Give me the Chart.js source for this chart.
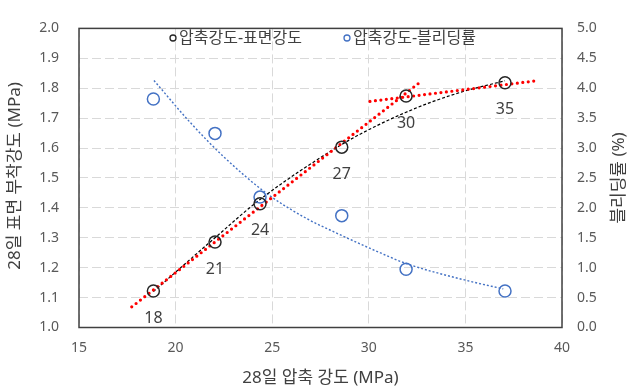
<!DOCTYPE html>
<html>
<head>
<meta charset="utf-8">
<script src="https://cdn.jsdelivr.net/npm/chart.js@4.4.2/dist/chart.umd.min.js"></script>
<style>
    body { margin: 0; background: #fff; }
    #wrap { width: 629px; height: 389px; }
</style>
</head>
<body>
<div id="wrap"><canvas id="chart"></canvas></div>
<script>
// 28일 압축강도 (MPa) - 배합별
const compStrength = [18.85, 22.04, 24.37, 28.6, 31.93, 37.05];
const surfaceStrength = [1.122, 1.286, 1.414, 1.603, 1.774, 1.818];
const bleedingRate = [3.82, 3.245, 2.18, 1.87, 0.974, 0.61];
const mixLabels = ['18', '21', '24', '27', '30', '35'];

// 추세선
const surfaceTrendX = [18.85, 22.04, 24.37, 28.6, 30.58, 31.87, 33.17, 34.89, 37.05];
const surfaceTrendY = [1.120, 1.300, 1.428, 1.612, 1.680, 1.718, 1.752, 1.789, 1.825];
const bleedTrendX = [18.88, 20.75, 22.47, 24.72, 26.79, 27.99, 30.58, 31.93, 34.89, 36.96];
const bleedTrendY = [4.13, 3.43, 2.86, 2.24, 1.82, 1.63, 1.25, 1.07, 0.80, 0.645];
const redLine1X = [17.73, 32.69];
const redLine1Y = [1.069, 1.822];
const redLine2X = [30.06, 38.69];
const redLine2Y = [1.756, 1.825];

const xTitle = '28일 압축 강도 (MPa)';
const yTitle = '28일 표면 부착강도 (MPa)';
const y2Title = '블리딩률 (%)';

const toPts = (xs, ys) => xs.map((x, i) => ({ x, y: ys[i] }));

const FONT = '"Noto Sans", "Noto Sans CJK KR", sans-serif';
Chart.defaults.font.family = FONT;

// 범례, 축 제목, 테두리, 데이터 레이블
const decorPlugin = {
    id: 'decor',
    beforeDatasetsDraw(chart) {
        const { ctx, chartArea: a } = chart;
        ctx.save();
        ctx.strokeStyle = '#404040';
        ctx.lineWidth = 1.5;
        ctx.strokeRect(a.left, a.top, a.right - a.left, a.bottom - a.top);
        ctx.restore();
    },
    afterDatasetsDraw(chart) {
        const { ctx, chartArea: a } = chart;
        ctx.save();

        // 데이터 레이블 (배합 강도)
        const meta = chart.getDatasetMeta(0);
        ctx.fillStyle = '#404040';
        ctx.font = '16px ' + FONT;
        ctx.textAlign = 'center';
        ctx.textBaseline = 'middle';
        meta.data.forEach((pt, i) => {
            ctx.fillText(mixLabels[i], pt.x, pt.y + 27);
        });

        // 범례
        ctx.font = '16px ' + FONT;
        ctx.textAlign = 'left';
        const legendItems = [
            { ds: chart.data.datasets[0], x: 173 },
            { ds: chart.data.datasets[1], x: 347 }
        ];
        legendItems.forEach(item => {
            ctx.beginPath();
            ctx.arc(item.x, 38, 3, 0, Math.PI * 2);
            ctx.strokeStyle = item.ds.borderColor;
            ctx.lineWidth = 1.3;
            ctx.stroke();
            ctx.fillStyle = '#404040';
            ctx.fillText(item.ds.label, item.x + 6, 38);
        });

        // 축 제목
        ctx.fillStyle = '#404040';
        ctx.font = '17px ' + FONT;
        ctx.textAlign = 'center';
        ctx.fillText(xTitle, (a.left + a.right) / 2, 378);

        const midY = (a.top + a.bottom) / 2;
        ctx.save();
        ctx.translate(15, midY - 2);
        ctx.rotate(-Math.PI / 2);
        ctx.fillText(yTitle, 0, 0);
        ctx.restore();

        ctx.save();
        ctx.translate(619, midY);
        ctx.rotate(-Math.PI / 2);
        ctx.fillText(y2Title, 0, 0);
        ctx.restore();

        ctx.restore();
    }
};

new Chart(document.getElementById('chart'), {
    type: 'scatter',
    data: {
        datasets: [
            {
                label: '압축강도-표면강도',
                data: toPts(compStrength, surfaceStrength),
                yAxisID: 'y',
                borderColor: '#262626',
                backgroundColor: 'rgba(0,0,0,0)',
                borderWidth: 1.5,
                pointRadius: 6,
                order: 0
            },
            {
                label: '압축강도-블리딩률',
                data: toPts(compStrength, bleedingRate),
                yAxisID: 'y2',
                borderColor: '#4472c4',
                backgroundColor: 'rgba(0,0,0,0)',
                borderWidth: 1.5,
                pointRadius: 6,
                order: 0
            },
            {
                label: 'surfaceTrend',
                data: toPts(surfaceTrendX, surfaceTrendY),
                yAxisID: 'y',
                showLine: true,
                pointRadius: 0,
                borderColor: '#000000',
                borderWidth: 1.2,
                borderDash: [3, 2],
                cubicInterpolationMode: 'monotone',
                order: 3
            },
            {
                label: 'bleedTrend',
                data: toPts(bleedTrendX, bleedTrendY),
                yAxisID: 'y2',
                showLine: true,
                pointRadius: 0,
                borderColor: '#4472c4',
                borderWidth: 1.4,
                borderDash: [2, 2],
                cubicInterpolationMode: 'monotone',
                order: 3
            },
            {
                label: 'red1',
                data: toPts(redLine1X, redLine1Y),
                yAxisID: 'y',
                showLine: true,
                pointRadius: 0,
                borderColor: '#ff0000',
                borderWidth: 3.2,
                borderDash: [0, 5.5],
                borderCapStyle: 'round',
                order: 1
            },
            {
                label: 'red2',
                data: toPts(redLine2X, redLine2Y),
                yAxisID: 'y',
                showLine: true,
                pointRadius: 0,
                borderColor: '#ff0000',
                borderWidth: 3.2,
                borderDash: [0, 5.5],
                borderCapStyle: 'round',
                order: 1
            }
        ]
    },
    options: {
        responsive: true,
        maintainAspectRatio: false,
        animation: false,
        layout: { padding: { top: 15, left: 0, right: 0, bottom: 0 } },
        plugins: {
            legend: { display: false },
            tooltip: { enabled: false }
        },
        scales: {
            x: {
                type: 'linear',
                min: 15,
                max: 40,
                afterFit: s => { s.height = 61.5; },
                ticks: {
                    stepSize: 5,
                    color: '#595959',
                    font: { size: 14 },
                    padding: 12,
                    maxRotation: 0
                },
                grid: { color: '#d9d9d9', lineWidth: 1, drawTicks: false },
                border: { display: false, dash: [9, 4] }
            },
            y: {
                position: 'left',
                min: 1.0,
                max: 2.0,
                afterFit: s => { s.width = 79; },
                ticks: {
                    stepSize: 0.1,
                    color: '#595959',
                    font: { size: 14 },
                    padding: 20,
                    callback: v => Number(v).toFixed(1)
                },
                grid: { color: '#d9d9d9', lineWidth: 1, drawTicks: false },
                border: { display: false, dash: [9, 4] }
            },
            y2: {
                position: 'right',
                min: 0,
                max: 5,
                afterFit: s => { s.width = 67; },
                ticks: {
                    stepSize: 0.5,
                    color: '#595959',
                    font: { size: 14 },
                    padding: 15,
                    callback: v => Number(v).toFixed(1)
                },
                grid: { display: false, drawTicks: false },
                border: { display: false }
            }
        }
    },
    plugins: [decorPlugin]
});
</script>
</body>
</html>
